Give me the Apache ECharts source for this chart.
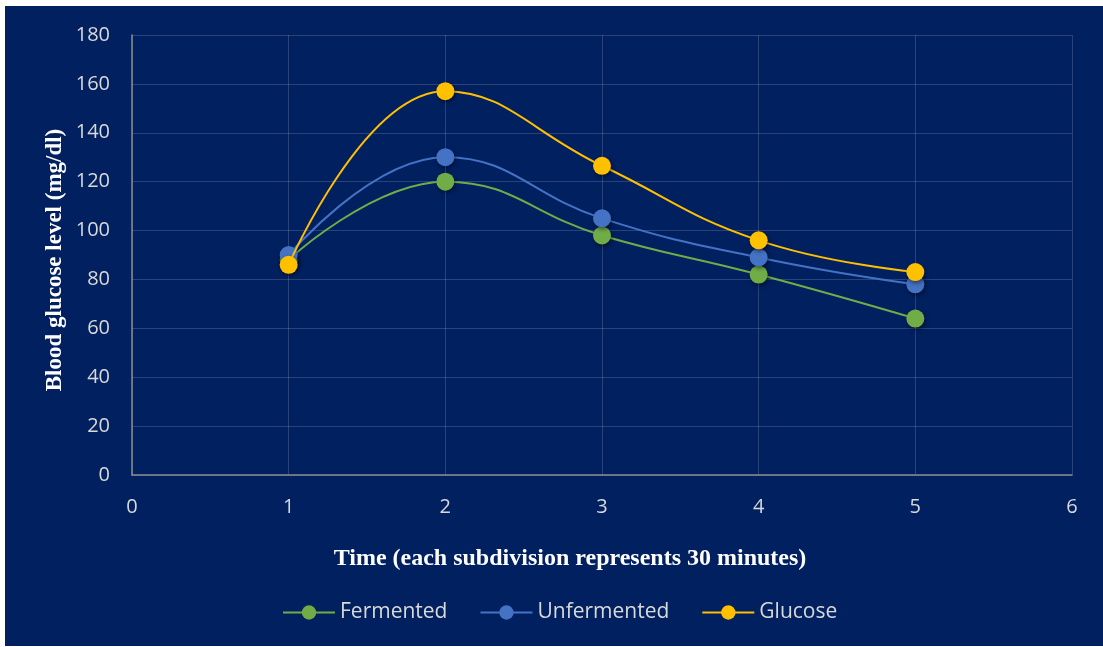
<!DOCTYPE html>
<html><head><meta charset="utf-8">
<script src="https://cdn.jsdelivr.net/npm/echarts@6/dist/echarts.min.js"></script>
<style>
html,body{margin:0;padding:0;background:#fff;width:1103px;height:647px;overflow:hidden;}
#c{position:absolute;left:5px;top:6px;width:1098px;height:640px;background:#002060;}
</style></head>
<body><div id="c"></div>
<script>
const timePoints = [1, 2, 3, 4, 5];
const fermented = [88, 120, 98, 82, 64];
const unfermented = [90, 130, 105, 89, 78];
const glucose = [86, 157, 126.5, 96, 83];
const seriesNames = ['Fermented', 'Unfermented', 'Glucose'];
const seriesColors = ['#70AD47', '#4472C4', '#FFC000'];
const xTitle = 'Time (each subdivision represents 30 minutes)';
const yTitle = 'Blood glucose level (mg/dl)';

const chart = echarts.init(document.getElementById('c'));
const pairs = arr => timePoints.map((t, i) => [t, arr[i]]);
const dataSets = [fermented, unfermented, glucose];
const labelColor = '#d9d9d9';
const titleStyle = {fill: '#ffffff', fontSize: 24, fontWeight: 'bold', fontFamily: 'Liberation Serif', align: 'center', verticalAlign: 'middle'};
chart.setOption({
  backgroundColor: '#002060',
  animation: false,
  grid: {left: 127, right: 31, top: 29, bottom: 171},
  graphic: [
    {type: 'text', x: 565, y: 553, style: Object.assign({text: xTitle}, titleStyle)},
    {type: 'text', x: 50, y: 254, rotation: Math.PI / 2, style: Object.assign({text: yTitle}, titleStyle, {fontSize: 23})}
  ],
  legend: {
    top: 591, left: 272,
    itemWidth: 52, itemHeight: 18, itemGap: 32,
    textStyle: {color: labelColor, fontSize: 21, fontFamily: 'Open Sans'},
    data: seriesNames
  },
  xAxis: {
    type: 'value', min: 0, max: 6, interval: 1,
    axisLine: {lineStyle: {color: '#8c8c8c', width: 1.5}},
    axisTick: {show: false},
    axisLabel: {color: labelColor, fontSize: 20, fontFamily: 'Open Sans', margin: 22},
    splitLine: {show: true, lineStyle: {color: 'rgba(255,255,255,0.16)', width: 1}}
  },
  yAxis: {
    type: 'value', min: 0, max: 180, interval: 20,
    axisLine: {show: true, lineStyle: {color: '#8c8c8c', width: 1.5}},
    axisTick: {show: false},
    axisLabel: {color: labelColor, fontSize: 20, fontFamily: 'Open Sans', margin: 22},
    splitLine: {show: true, lineStyle: {color: 'rgba(255,255,255,0.16)', width: 1}}
  },
  series: seriesNames.map((n, i) => ({
    name: n, type: 'line', smooth: 0.45,
    data: pairs(dataSets[i]),
    symbol: 'circle', symbolSize: 18,
    lineStyle: {color: seriesColors[i], width: 2},
    itemStyle: {color: seriesColors[i], shadowBlur: 4, shadowColor: 'rgba(0,0,0,0.5)', shadowOffsetX: 1, shadowOffsetY: 2},
    z: 2 + i
  }))
});
</script></body></html>
